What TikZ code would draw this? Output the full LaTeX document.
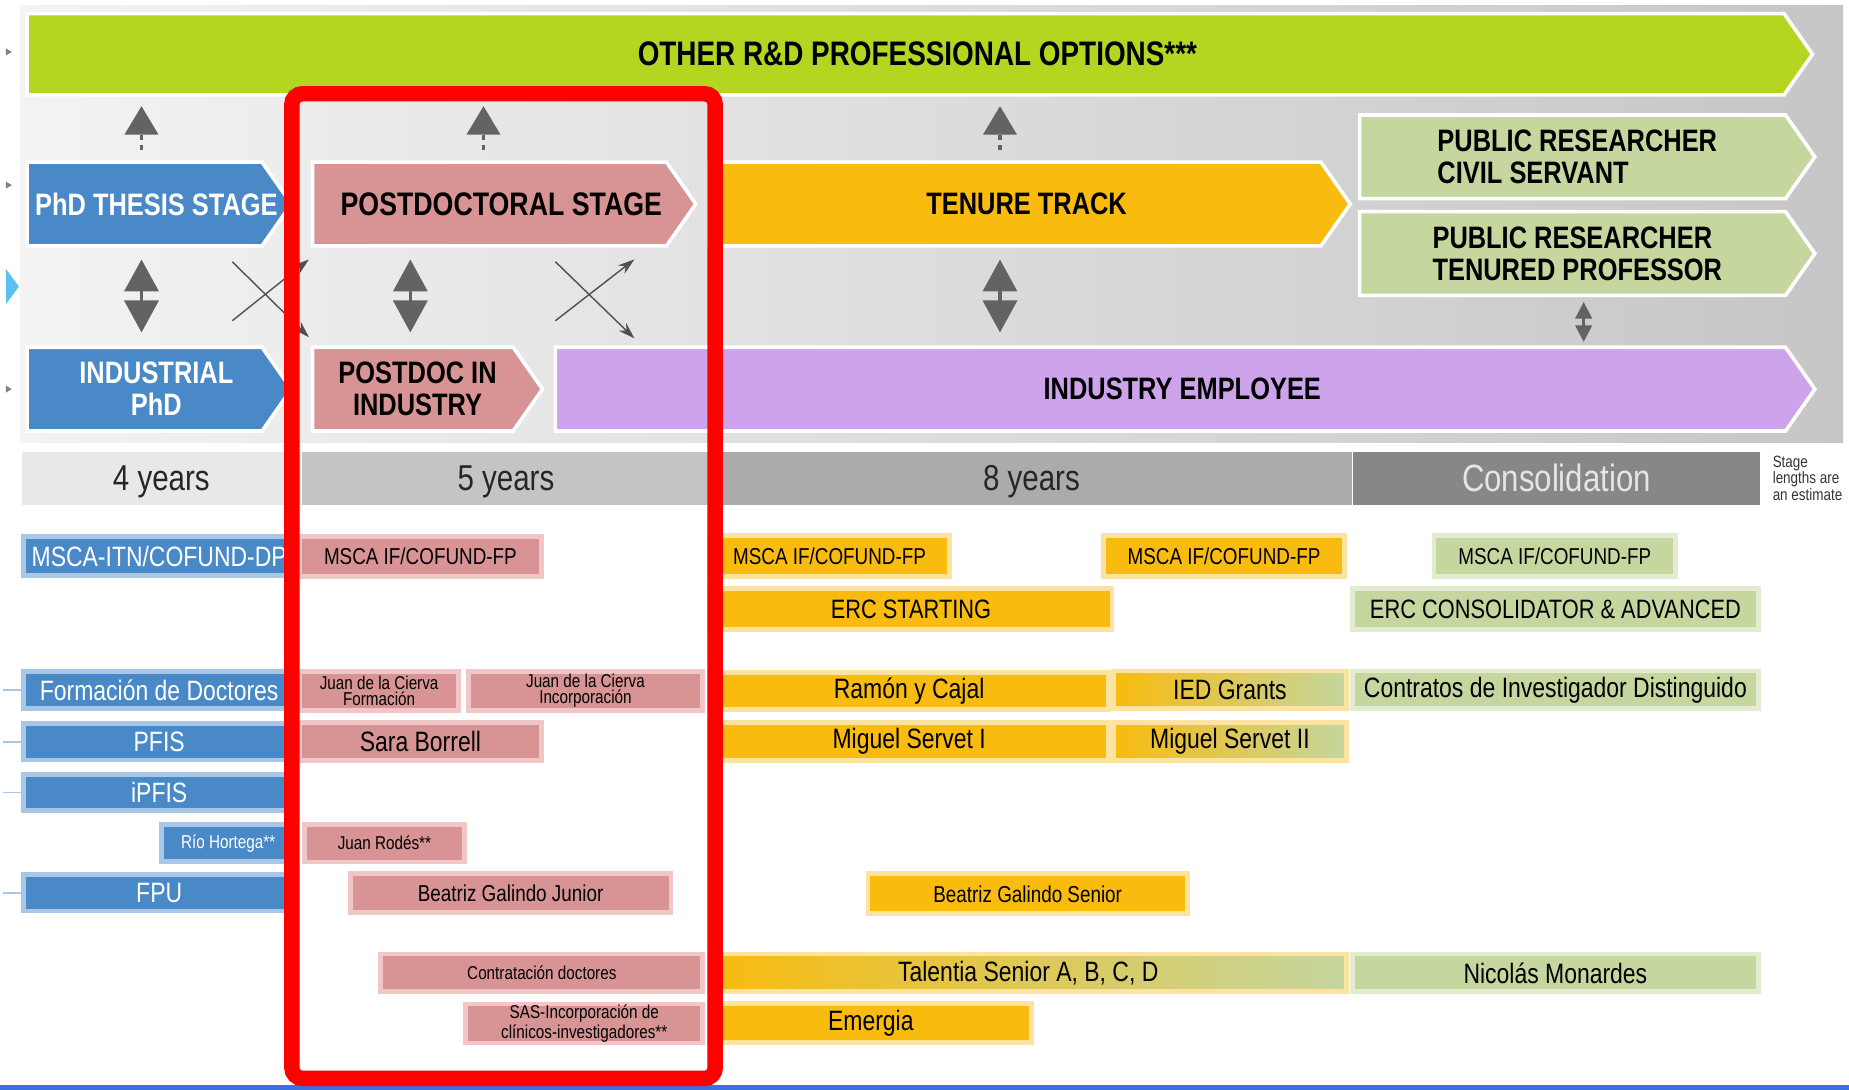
\documentclass[tikz,border=0pt]{standalone}
\usepackage{fontspec}
\setmainfont{Liberation Sans}[FakeStretch=0.82]
\usetikzlibrary{shapes.symbols, arrows.meta, positioning}

\newlength\upx
\setlength\upx{0.5896pt}

\definecolor{panelleft}{HTML}{F3F3F3}
\definecolor{panelright}{HTML}{C6C6C6}
\definecolor{bannergreen}{HTML}{B5D620}
\definecolor{phdblue}{HTML}{4A89C8}
\definecolor{phdedge}{HTML}{A8C7E7}
\definecolor{pdpink}{HTML}{D89494}
\definecolor{pdedge}{HTML}{F0C6C6}
\definecolor{ttorange}{HTML}{F8BB0E}
\definecolor{ttedge}{HTML}{FCE3A2}
\definecolor{congreen}{HTML}{C5D69F}
\definecolor{conedge}{HTML}{E3ECD0}
\definecolor{indpurple}{HTML}{CDA3EC}
\definecolor{arrowgray}{HTML}{636363}
\definecolor{markblue}{HTML}{5BC0F0}
\definecolor{baseblue}{HTML}{3C6FE0}

\tikzstyle{banner} = [signal, signal to=east,
signal pointer angle=110,
draw=white, line width=1.8pt,
minimum height=71\upx, inner sep=0pt,
anchor=west]
\tikzstyle{bannertext} = [inner sep=0pt, align=center,
xshift=10\upx,
font=\bfseries\fontsize{15.5pt}{16pt}\selectfont]
\tikzstyle{stagebar} = [rectangle, inner sep=0pt,
minimum height=45\upx, text=black!85, text depth=0pt,
font=\fontsize{18pt}{20pt}\selectfont]
\tikzstyle{fund} = [rectangle, inner sep=0pt,
line width=2.4pt, minimum height=31\upx, align=center,
font=\fontsize{14pt}{15pt}\selectfont]
\tikzstyle{phdfund} = [fund, fill=phdblue, draw=phdedge, text=white]
\tikzstyle{pdfund} = [fund, fill=pdpink, draw=pdedge]
\tikzstyle{ttfund} = [fund, fill=ttorange, draw=ttedge]
\tikzstyle{mixfund} = [fund, left color=ttorange, right color=congreen, draw=ttedge]
\tikzstyle{confund} = [fund, fill=congreen, draw=conedge]
\tikzstyle{midtext} = [font=\fontsize{11.5pt}{12pt}\selectfont]
\tikzstyle{smalltext} = [font=\fontsize{9.3pt}{8pt}\selectfont]
\tikzstyle{uparrow} = [arrowgray, line width=1.8pt,
dash pattern=on 2.4pt off 2.4pt,
-{Triangle[width=16.5pt, length=14.2pt]},
shorten <=5.3pt, shorten >=4.7pt]
\tikzstyle{bothways} = [arrowgray, line width=1.8pt,
{Triangle[width=17pt, length=16pt]}-{Triangle[width=17pt, length=16pt]},
shorten <=5.9pt, shorten >=6.5pt]
\tikzstyle{smallboth} = [arrowgray, line width=1.2pt,
{Triangle[width=8.3pt, length=8.3pt]}-{Triangle[width=8.3pt, length=8.3pt]},
shorten <=2.4pt, shorten >=1.8pt]
\tikzstyle{crossarrow} = [arrowgray!80!black, line width=0.7pt,
-{Stealth[width=5.3pt, length=8.3pt]}]
\tikzstyle{tickline} = [phdedge, line width=0.9pt]

\begin{document}
\begin{tikzpicture}[x=0.5896pt, y=-0.5896pt]
	\useasboundingbox (0,0) rectangle (1568,924);

	% grey panel behind the stages
	\fill [left color=panelleft, right color=panelright] (17,5) rectangle (1563,375);
	\fill [gray] (5,41) -- (10,44) -- (5,47) -- cycle;
	\fill [gray] (5,154) -- (10,157) -- (5,160) -- cycle;
	\fill [gray] (5,327) -- (10,330) -- (5,333) -- cycle;
	\fill [markblue] (5,228) -- (16,243) -- (5,258) -- cycle;

	% career stages
	\node (other) [banner, fill=bannergreen, minimum width=1514\upx, minimum height=69\upx,
		label={[bannertext, font=\bfseries\fontsize{17pt}{17pt}\selectfont]center:OTHER R\&D PROFESSIONAL OPTIONS***}] at (21.5,46) {};
	\node (phd) [banner, fill=phdblue, minimum width=224\upx,
		label={[bannertext, text=white]center:PhD THESIS STAGE}] at (21.5,173) {};
	\node (postdoc) [banner, fill=pdpink, minimum width=325\upx,
		label={[bannertext, font=\bfseries\fontsize{16.3pt}{17pt}\selectfont]center:POSTDOCTORAL STAGE}] at (263.5,173) {};
	\node (tenure) [banner, fill=ttorange, minimum width=544\upx,
		label={[bannertext]center:TENURE TRACK}] at (599.5,173) {};
	\node (civil) [banner, fill=congreen, minimum width=386\upx,
		label={[bannertext, xshift=-6\upx, align=left]center:{PUBLIC RESEARCHER\\CIVIL SERVANT}}] at (1151.5,133) {};
	\node (tenured) [banner, fill=congreen, minimum width=386\upx,
		label={[bannertext, xshift=-6\upx, align=left]center:{PUBLIC RESEARCHER\\TENURED PROFESSOR}}] at (1151.5,215) {};
	\node (indphd) [banner, fill=phdblue, minimum width=224\upx,
		label={[bannertext, text=white]center:{INDUSTRIAL\\PhD}}] at (21.5,330) {};
	\node (pdind) [banner, fill=pdpink, minimum width=195\upx,
		label={[bannertext, xshift=-6\upx]center:{POSTDOC IN\\INDUSTRY}}] at (263.5,330) {};
	\node (employee) [banner, fill=indpurple, minimum width=1068\upx,
		label={[bannertext]center:INDUSTRY EMPLOYEE}] at (469.5,330) {};

	% moves between stages
	\coordinate (colA) at (120,0);
	\coordinate (colB) at (410,0);
	\coordinate (colC) at (348,0);
	\coordinate (colD) at (848,0);
	\coordinate (colE) at (1343,0);
	\draw [uparrow] (colA |- phd.north) -- (colA |- other.south);
	\draw [uparrow] (colB |- postdoc.north) -- (colB |- other.south);
	\draw [uparrow] (colD |- tenure.north) -- (colD |- other.south);
	\draw [bothways] (colA |- phd.south) -- (colA |- indphd.north);
	\draw [bothways] (colC |- postdoc.south) -- (colC |- pdind.north);
	\draw [bothways] (colD |- tenure.south) -- (colD |- employee.north);
	\draw [smallboth] (colE |- tenured.south) -- (colE |- employee.north);

	\coordinate (xa1) at (197,222);
	\coordinate (xa2) at (262,286);
	\coordinate (xb1) at (197,272);
	\coordinate (xb2) at (262,220);
	\coordinate (xc1) at (471,222);
	\coordinate (xc2) at (538,287);
	\coordinate (xd1) at (471,272);
	\coordinate (xd2) at (538,220);
	\draw [crossarrow] (xa1) -- (xa2);
	\draw [crossarrow] (xb1) -- (xb2);
	\draw [crossarrow] (xc1) -- (xc2);
	\draw [crossarrow] (xd1) -- (xd2);

	% stage lengths
	\node (four) [stagebar, fill=black!9, minimum width=237\upx, anchor=west] at (18,405.5) {4 years};
	\node (five) [stagebar, fill=black!23, minimum width=346\upx, right=0pt of four] {5 years};
	\node (eight) [stagebar, fill=black!33, minimum width=544\upx, right=0pt of five] {8 years};
	\node (consol) [stagebar, fill=black!47, minimum width=345\upx, text=black!10,
		font=\fontsize{19pt}{20pt}\selectfont, right=0pt of eight] {Consolidation};
	\node (note) [anchor=north west, align=left, inner sep=0pt, text=black!80,
		font=\fontsize{8.2pt}{8.3pt}\selectfont] at (1503,386) {Stage\\lengths are\\an estimate};

	% PhD grants
	\node (mscadp) [phdfund, minimum width=230\upx, minimum height=33\upx] at (135,471.5) {MSCA-ITN/COFUND-DP};
	\node (fdoc) [phdfund, minimum width=230\upx] at (135,585) {Formación de Doctores};
	\node (pfis) [phdfund, minimum width=230\upx] at (135,629) {PFIS};
	\node (ipfis) [phdfund, minimum width=230\upx] at (135,672) {iPFIS};
	\node (hortega) [phdfund, smalltext, minimum width=113\upx] at (193.5,715) {Río Hortega**};
	\node (fpu) [phdfund, minimum width=230\upx] at (135,757) {FPU};
	\draw [tickline] (fdoc.west) -- ++(-15,0);
	\draw [tickline] (pfis.west) -- ++(-15,0);
	\draw [tickline] (ipfis.west) -- ++(-15,0);
	\draw [tickline] (fpu.west) -- ++(-15,0);

	% postdoctoral grants
	\node (mscapd) [pdfund, midtext, minimum width=205\upx, minimum height=34\upx] at (356.5,472) {MSCA IF/COFUND-FP};
	\node (jdcf) [pdfund, smalltext, minimum width=135\upx, minimum height=33\upx] at (321.5,586) {Juan de la Cierva\\Formación};
	\node (jdci) [pdfund, smalltext, minimum width=199\upx, minimum height=33\upx] at (496.5,586) {Juan de la Cierva\\Incorporación};
	\node (borrell) [pdfund, minimum width=205\upx, minimum height=32\upx] at (356.5,629) {Sara Borrell};
	\node (rodes) [pdfund, smalltext, minimum width=136\upx, minimum height=32\upx] at (326,715) {Juan Rodés**};
	\node (galindojr) [pdfund, midtext, minimum width=272\upx, minimum height=33\upx] at (433,757.5) {Beatriz Galindo Junior};
	\node (contrat) [pdfund, smalltext, minimum width=273\upx, minimum height=32\upx] at (459.5,825) {Contratación doctores};
	\node (sas) [pdfund, smalltext, minimum width=201\upx, minimum height=33\upx] at (495.5,868) {SAS-Incorporación de\\clínicos-investigadores**};

	% tenure track grants
	\node (mscatt) [ttfund, midtext, minimum width=203\upx, minimum height=35\upx] at (703.5,471.5) {MSCA IF/COFUND-FP};
	\node (mscatt2) [ttfund, midtext, minimum width=204\upx, minimum height=35\upx] at (1038,471.5) {MSCA IF/COFUND-FP};
	\node (ercst) [ttfund, minimum width=341\upx, minimum height=35\upx,
		font=\fontsize{13.3pt}{14pt}\selectfont] at (772.5,516.5) {ERC STARTING};
	\node (ramon) [ttfund, minimum width=338\upx, minimum height=32\upx] at (771,586) {Ramón y Cajal};
	\node (ied) [mixfund, minimum width=198\upx, minimum height=32\upx] at (1043,585) {IED Grants};
	\node (servet) [ttfund, minimum width=338\upx, minimum height=32\upx] at (771,629) {Miguel Servet I};
	\node (servet2) [mixfund, minimum width=198\upx, minimum height=32\upx] at (1043,629) {Miguel Servet II};
	\node (galindosr) [ttfund, midtext, minimum width=271\upx, minimum height=34\upx] at (871.5,758) {Beatriz Galindo Senior};
	\node (talentia) [mixfund, minimum width=540\upx, minimum height=32\upx] at (872,825) {Talentia Senior A, B, C, D};
	\node (emergia) [ttfund, minimum width=273\upx, minimum height=33\upx] at (738.5,867.5) {Emergia};

	% consolidation grants
	\node (mscacon) [confund, midtext, minimum width=205\upx, minimum height=35\upx] at (1318.5,471.5) {MSCA IF/COFUND-FP};
	\node (erccon) [confund, minimum width=344\upx, minimum height=35\upx,
		font=\fontsize{13.3pt}{14pt}\selectfont] at (1319,516.5) {ERC CONSOLIDATOR \& ADVANCED};
	\node (disting) [confund, minimum width=344\upx, minimum height=32\upx] at (1319,585) {Contratos de Investigador Distinguido};
	\node (monardes) [confund, minimum width=344\upx, minimum height=32\upx] at (1319,825) {Nicolás Monardes};

	% highlight of the postdoctoral column
	\fill [baseblue] (0,920) rectangle (1568,924);
	\draw [red, line width=7.7pt, rounded corners=5.3pt] (247.5,79.5) rectangle (606.5,914.5);
\end{tikzpicture}
\end{document}
